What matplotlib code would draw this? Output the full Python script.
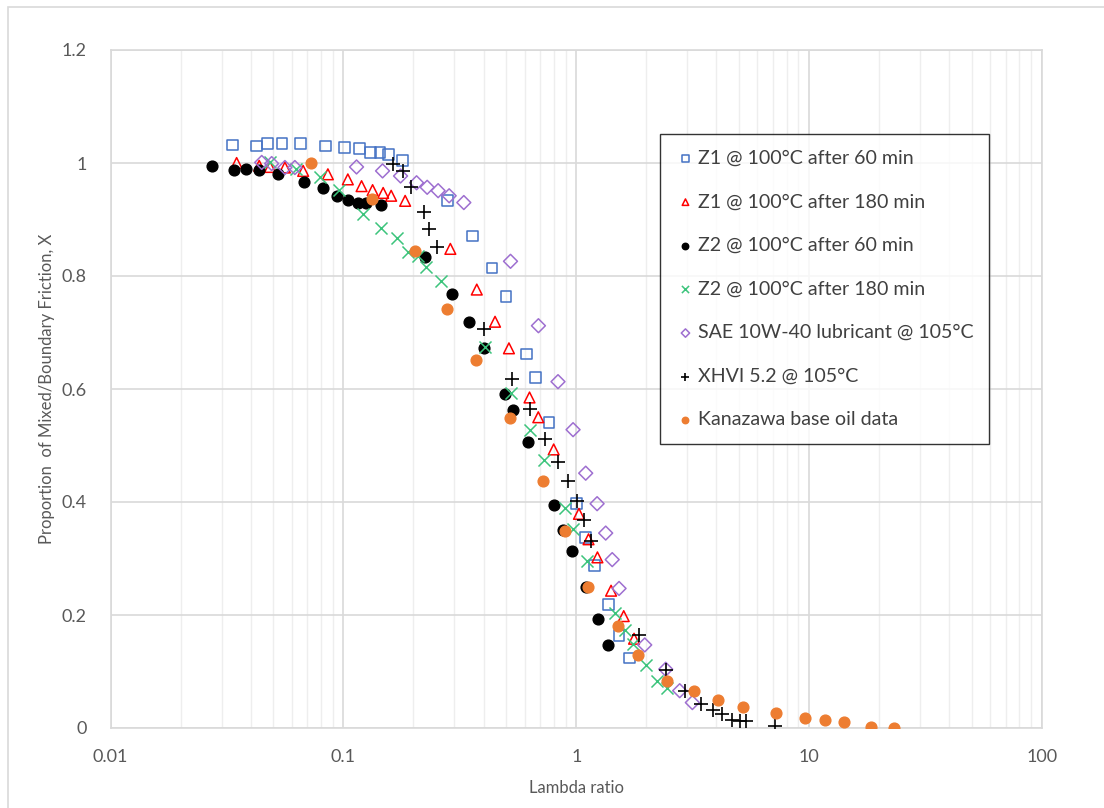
import matplotlib
matplotlib.use("Agg")
import matplotlib.pyplot as plt
from matplotlib.ticker import FixedLocator, LogLocator, NullFormatter
from matplotlib.patches import Rectangle

# data
z1_60_x = [0.0334, 0.0424, 0.0474, 0.0545, 0.0655, 0.0835, 0.1012, 0.1169, 0.1308, 0.1435, 0.1563,
           0.1795, 0.279, 0.3585, 0.435, 0.4996, 0.6113, 0.668, 0.764, 1.0, 1.098, 1.195, 1.375, 1.527, 1.692]
z1_60_y = [1.032, 1.030, 1.035, 1.035, 1.035, 1.030, 1.027, 1.025, 1.018, 1.018, 1.015,
           1.005, 0.933, 0.871, 0.814, 0.764, 0.662, 0.621, 0.541, 0.397, 0.337, 0.288, 0.218, 0.164, 0.124]

z1_180_x = [0.0348, 0.0435, 0.0484, 0.0561, 0.0672, 0.0858, 0.1045, 0.1197, 0.1335, 0.1482, 0.1604,
            0.1842, 0.288, 0.374, 0.448, 0.514, 0.630, 0.687, 0.80, 1.027, 1.129, 1.233, 1.411, 1.599, 1.771]
z1_180_y = [1.0, 0.995, 0.993, 0.992, 0.986, 0.980, 0.971, 0.959, 0.952, 0.947, 0.942,
            0.933, 0.848, 0.776, 0.719, 0.672, 0.585, 0.550, 0.493, 0.379, 0.334, 0.302, 0.243, 0.198, 0.158]

z2_60_x = [0.02726, 0.0340, 0.0382, 0.0435, 0.0524, 0.0679, 0.0814, 0.0938, 0.1045, 0.1157, 0.1245,
           0.1453, 0.2242, 0.2913, 0.3474, 0.402, 0.4932, 0.5365, 0.6223, 0.80, 0.8776, 0.9584, 1.098, 1.246, 1.375]
z2_60_y = [0.995, 0.987, 0.989, 0.987, 0.980, 0.967, 0.955, 0.942, 0.935, 0.930, 0.930,
           0.925, 0.834, 0.769, 0.719, 0.672, 0.591, 0.562, 0.506, 0.395, 0.350, 0.313, 0.250, 0.193, 0.147]

z2_180_x = [0.0486, 0.0629, 0.0793, 0.0954, 0.1216, 0.1456, 0.1697, 0.1892, 0.2083, 0.2267, 0.2614,
            0.406, 0.522, 0.6315, 0.7266, 0.891, 0.969, 1.115, 1.463, 1.615, 1.753, 2.001, 2.222, 2.453]
z2_180_y = [1.002, 0.990, 0.975, 0.952, 0.910, 0.885, 0.868, 0.843, 0.835, 0.816, 0.791,
            0.674, 0.593, 0.528, 0.474, 0.389, 0.352, 0.295, 0.203, 0.173, 0.149, 0.112, 0.084, 0.070]

sae_x = [0.0446, 0.0492, 0.0561, 0.0619, 0.1139, 0.1473, 0.176, 0.2062, 0.229, 0.2552, 0.2846, 0.329,
         0.522, 0.688, 0.835, 0.969, 1.098, 1.229, 1.338, 1.427, 1.527, 1.968, 2.422, 2.781, 3.152]
sae_y = [1.001, 0.999, 0.992, 0.992, 0.993, 0.986, 0.977, 0.965, 0.957, 0.951, 0.942, 0.930,
         0.826, 0.712, 0.613, 0.528, 0.451, 0.397, 0.345, 0.298, 0.247, 0.147, 0.104, 0.066, 0.045]

xhvi_x = [0.1626, 0.1806, 0.1943, 0.222, 0.2339, 0.2532, 0.401, 0.529, 0.6315, 0.737, 0.835, 0.921, 1.012,
          1.082, 1.160, 1.854, 2.422, 2.942, 3.433, 3.865, 4.24, 4.68, 5.03, 5.38, 7.13]
xhvi_y = [0.999, 0.985, 0.958, 0.913, 0.883, 0.851, 0.707, 0.618, 0.565, 0.512, 0.471, 0.437, 0.402,
          0.369, 0.331, 0.164, 0.103, 0.065, 0.042, 0.032, 0.024, 0.015, 0.013, 0.013, 0.004]

kan_x = [0.0723, 0.1321, 0.2027, 0.279, 0.3693, 0.521, 0.718, 0.894, 1.128, 1.512, 1.842, 2.453, 3.193,
         4.05, 5.20, 7.23, 9.57, 11.65, 14.1, 18.4, 23.1]
kan_y = [1.0, 0.936, 0.844, 0.742, 0.652, 0.549, 0.437, 0.348, 0.250, 0.181, 0.129, 0.084, 0.065,
         0.050, 0.037, 0.027, 0.017, 0.014, 0.011, 0.002, 0.0]

x_ticks = [0.01, 0.1, 1, 10, 100]
x_tick_labels = ["0.01", "0.1", "1", "10", "100"]
y_ticks = [0, 0.2, 0.4, 0.6, 0.8, 1.0, 1.2]
y_tick_labels = ["0", "0.2", "0.4", "0.6", "0.8", "1", "1.2"]

plt.rcParams['font.family'] = ['Lato', 'DejaVu Sans']
txt = '#595959'

fig = plt.figure(figsize=(11.04, 8.08), dpi=100)
# chart area border (only left and top edges are visible)
fig.patches.append(Rectangle((8 / 1104, -0.1), 1.2, (808 - 7) / 808 + 0.1, transform=fig.transFigure,
                             fill=False, edgecolor='#d9d9d9', linewidth=1.2))
ax = fig.add_axes([110.5 / 1104, 80 / 808, (1042 - 110.5) / 1104, 678 / 808])

ax.scatter(z1_60_x, z1_60_y, marker='s', s=60, facecolors='none', edgecolors='#4472c4', linewidths=1.1,
           label='Z1 @ 100°C after 60 min', zorder=3)
ax.scatter(z1_180_x, z1_180_y, marker='^', s=60, facecolors='none', edgecolors='#ff0000', linewidths=1.1,
           label='Z1 @ 100°C after 180 min', zorder=3)
ax.scatter(z2_60_x, z2_60_y, marker='o', s=60, color='black',
           label='Z2 @ 100°C after 60 min', zorder=3)
ax.scatter(z2_180_x, z2_180_y, marker='x', s=75, color='#3cc47c', linewidths=1.1,
           label='Z2 @ 100°C after 180 min', zorder=3)
ax.scatter(sae_x, sae_y, marker='D', s=50, facecolors='none', edgecolors='#9e6fd0', linewidths=1.1,
           label='SAE 10W-40 lubricant @ 105°C', zorder=3)
ax.scatter(xhvi_x, xhvi_y, marker='+', s=115, color='black', linewidths=1.2,
           label='XHVI 5.2 @ 105°C', zorder=3)
ax.scatter(kan_x, kan_y, marker='o', s=60, color='#ed7d31',
           label='Kanazawa base oil data', zorder=3)

ax.set_xscale('log')
ax.set_xlim(0.01, 100)
ax.set_ylim(0, 1.2)
ax.set_xticks(x_ticks)
ax.set_xticklabels(x_tick_labels)
ax.xaxis.set_minor_locator(LogLocator(base=10, subs=range(2, 10)))
ax.xaxis.set_minor_formatter(NullFormatter())
ax.yaxis.set_major_locator(FixedLocator(y_ticks))
ax.set_yticklabels(y_tick_labels)

ax.grid(which='major', axis='both', color='#d9d9d9', linewidth=1.2)
ax.grid(which='minor', axis='x', color='#eeeeee', linewidth=1.0)
ax.set_axisbelow(True)
for s in ax.spines.values():
    s.set_color('#d9d9d9')
    s.set_linewidth(1.2)

ax.tick_params(which='both', length=0, labelsize=13, labelcolor=txt)
ax.tick_params(axis='x', pad=15)
ax.tick_params(axis='y', pad=17)

ax.set_xlabel('Lambda ratio', fontsize=12, color=txt, labelpad=11)
ax.set_ylabel('Proportion  of Mixed/Boundary Friction, X', fontsize=12, color=txt, labelpad=5)

leg = ax.legend(loc='upper left', bbox_to_anchor=((660 - 110.5) / 931.5, (728 - 134) / 678),
                borderaxespad=0, frameon=True, fancybox=False, edgecolor='black', fontsize=14.1,
                labelspacing=1.36, handletextpad=0.15, handlelength=1.0, borderpad=0.8,
                markerscale=0.6, scatterpoints=1)
leg.get_frame().set_linewidth(1.0)
for t in leg.get_texts():
    t.set_color('#404040')

plt.savefig('out.png', dpi=100)
